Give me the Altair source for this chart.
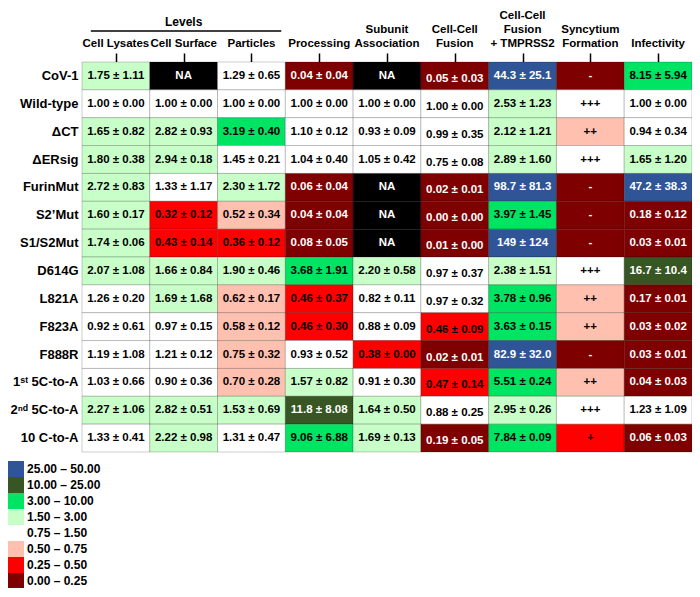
import altair as alt
import pandas as pd

rows = ["CoV-1", "Wild-type", "ΔCT", "ΔERsig", "FurinMut", "S2’Mut", "S1/S2Mut",
        "D614G", "L821A", "F823A", "F888R", "1ˢᵗ 5C-to-A", "2ⁿᵈ 5C-to-A", "10 C-to-A"]

columns = ["Cell Lysates", "Cell Surface", "Particles", "Processing", "Subunit Association",
           "Cell-Cell Fusion", "Cell-Cell Fusion + TMPRSS2", "Syncytium Formation", "Infectivity"]
column_lines = [["Cell Lysates"], ["Cell Surface"], ["Particles"], ["Processing"],
                ["Subunit", "Association"], ["Cell-Cell", "Fusion"],
                ["Cell-Cell", "Fusion", "+ TMPRSS2"], ["Syncytium", "Formation"], ["Infectivity"]]

# means / sds (None = NA), bins
lysates_mean = [1.75, 1.00, 1.65, 1.80, 2.72, 1.60, 1.74, 2.07, 1.26, 0.92, 1.19, 1.03, 2.27, 1.33]
lysates_sd = [1.11, 0.00, 0.82, 0.38, 0.83, 0.17, 0.06, 1.08, 0.20, 0.61, 1.08, 0.66, 1.06, 0.41]
lysates_bin = "LWLLLLLLWWWWLW"

surface_mean = [None, 1.00, 2.82, 2.94, 1.33, 0.32, 0.43, 1.66, 1.69, 0.97, 1.21, 0.90, 2.82, 2.22]
surface_sd = [None, 0.00, 0.93, 0.18, 1.17, 0.12, 0.14, 0.84, 1.68, 0.15, 0.12, 0.36, 0.51, 0.98]
surface_bin = "NWLLWRRLLWWWLL"

particles_mean = [1.29, 1.00, 3.19, 1.45, 2.30, 0.52, 0.36, 1.90, 0.62, 0.58, 0.75, 0.70, 1.53, 1.31]
particles_sd = [0.65, 0.00, 0.40, 0.21, 1.72, 0.34, 0.12, 0.46, 0.17, 0.12, 0.32, 0.28, 0.69, 0.47]
particles_bin = "WWGWLSRLSSSSLW"

processing_mean = [0.04, 1.00, 1.10, 1.04, 0.06, 0.04, 0.08, 3.68, 0.46, 0.46, 0.93, 1.57, 11.8, 9.06]
processing_sd = [0.04, 0.00, 0.12, 0.40, 0.04, 0.04, 0.05, 1.91, 0.37, 0.30, 0.52, 0.82, 8.08, 6.88]
processing_bin = "DWWWDDDGRRWLOG"

subunit_mean = [None, 1.00, 0.93, 1.05, None, None, None, 2.20, 0.82, 0.88, 0.38, 0.91, 1.64, 1.69]
subunit_sd = [None, 0.00, 0.09, 0.42, None, None, None, 0.58, 0.11, 0.09, 0.00, 0.30, 0.50, 0.13]
subunit_bin = "NWWWNNNLWWRWLL"

fusion_mean = [0.05, 1.00, 0.99, 0.75, 0.02, 0.00, 0.01, 0.97, 0.97, 0.46, 0.02, 0.47, 0.88, 0.19]
fusion_sd = [0.03, 0.00, 0.35, 0.08, 0.01, 0.00, 0.00, 0.37, 0.32, 0.09, 0.01, 0.14, 0.25, 0.05]
fusion_bin = "DWWWDDDWWRDRWD"

tmprss2_mean = [44.3, 2.53, 2.12, 2.89, 98.7, 3.97, 149, 2.38, 3.78, 3.63, 82.9, 5.51, 2.95, 7.84]
tmprss2_sd = [25.1, 1.23, 1.21, 1.60, 81.3, 1.45, 124, 1.51, 0.96, 0.15, 32.0, 0.24, 0.26, 0.09]
tmprss2_bin = "BLLLBGBLGGBGLG"

syncytium_text = ["-", "+++", "++", "+++", "-", "-", "-", "+++", "++", "++", "-", "++", "+++", "+"]
syncytium_bin = "DWSWDDDWSSDSWR"

infectivity_mean = [8.15, 1.00, 0.94, 1.65, 47.2, 0.18, 0.03, 16.7, 0.17, 0.03, 0.03, 0.04, 1.23, 0.06]
infectivity_sd = [5.94, 0.00, 0.34, 1.20, 38.3, 0.12, 0.01, 10.4, 0.01, 0.02, 0.01, 0.03, 1.09, 0.03]
infectivity_bin = "GWWLBDDODDDDWD"

bin_codes = ["B", "O", "G", "L", "W", "S", "R", "D"]
bin_labels = ["25.00 – 50.00", "10.00 – 25.00", "3.00 – 10.00", "1.50 – 3.00",
              "0.75 – 1.50", "0.50 – 0.75", "0.25 – 0.50", "0.00 – 0.25"]
bin_colors = ["#2F5597", "#375623", "#00E464", "#C8FFC8", "#FFFFFF", "#FFC0B0", "#FF0000", "#7F0000"]
dark_bins = {"B", "O", "D", "N"}


def fmt(v):
    if v >= 100:
        return f"{v:.0f}"
    if v >= 10:
        return f"{v:.1f}"
    return f"{v:.2f}"


numeric_cols = {
    0: (lysates_mean, lysates_sd, lysates_bin),
    1: (surface_mean, surface_sd, surface_bin),
    2: (particles_mean, particles_sd, particles_bin),
    3: (processing_mean, processing_sd, processing_bin),
    4: (subunit_mean, subunit_sd, subunit_bin),
    5: (fusion_mean, fusion_sd, fusion_bin),
    6: (tmprss2_mean, tmprss2_sd, tmprss2_bin),
    8: (infectivity_mean, infectivity_sd, infectivity_bin),
}

code_to_label = dict(zip(bin_codes, bin_labels))
code_to_label["N"] = "NA"

records = []
for ci, col in enumerate(columns):
    for ri, row in enumerate(rows):
        if ci == 7:
            txt = syncytium_text[ri]
            code = syncytium_bin[ri]
        else:
            m, s, b = numeric_cols[ci]
            code = b[ri]
            txt = "NA" if m[ri] is None else f"{fmt(m[ri])} ± {fmt(s[ri])}"
        records.append({
            "row": row, "col": col, "x0": ci, "x1": ci + 1, "xc": ci + 0.5,
            "label": txt, "bin": code_to_label[code],
            "tc": "#FFFFFF" if code in dark_bins else "#000000",
            "shift": ci == 5,
        })
df = pd.DataFrame(records)

# header lines, k = line number counted from the bottom line
head_records = []
for ci, lines in enumerate(column_lines):
    for j, line in enumerate(lines):
        head_records.append({"xc": ci + 0.5, "line": line, "k": len(lines) - 1 - j})
head_df = pd.DataFrame(head_records)

x_enc = alt.X("x0:Q", title=None,
              scale=alt.Scale(domain=[0, len(columns)], nice=False, zero=False),
              axis=alt.Axis(orient="top", values=[i + 0.5 for i in range(len(columns))],
                            labels=False, domain=False, grid=False,
                            ticks=True, tickSize=9, tickWidth=1.5, tickColor="#000000"))
y_enc = alt.Y("row:N", sort=rows, title=None,
              scale=alt.Scale(paddingInner=0, paddingOuter=0),
              axis=alt.Axis(ticks=False, domain=False, labelPadding=4, labelFontSize=13,
                            labelFontWeight="bold", labelColor="#000000", labelLimit=200))

base = alt.Chart(df)
rect = base.mark_rect(stroke="#000000", strokeOpacity=0.2, strokeWidth=1).encode(
    x=x_enc, x2="x1:Q", y=y_enc,
    color=alt.Color("bin:N",
                    scale=alt.Scale(domain=bin_labels + ["NA"], range=bin_colors + ["#000000"]),
                    legend=alt.Legend(values=bin_labels, title=None, orient="none",
                                      legendX=-74, legendY=399, symbolType="square",
                                      symbolSize=256, symbolStrokeWidth=0, rowPadding=0,
                                      labelFontSize=12, labelFontWeight="bold",
                                      labelColor="#000000", labelOffset=3, padding=0)),
)

text_main = base.transform_filter("!datum.shift").mark_text(
    fontSize=11.5, fontWeight="bold").encode(
    x="xc:Q", y=alt.Y("row:N", sort=rows), text="label:N",
    color=alt.Color("tc:N", scale=None))
text_shift = base.transform_filter("datum.shift").mark_text(
    fontSize=11.5, fontWeight="bold", dy=3).encode(
    x="xc:Q", y=alt.Y("row:N", sort=rows), text="label:N",
    color=alt.Color("tc:N", scale=None))

head_layers = []
for k in range(3):
    head_layers.append(
        alt.Chart(head_df).transform_filter(f"datum.k == {k}").mark_text(
            fontSize=11.5, fontWeight="bold", color="#000000", baseline="middle").encode(
            x="xc:Q", y=alt.value(-18 - 14 * k), text="line:N"))

levels_df = pd.DataFrame({"start": [0.13], "end": [2.94], "mid": [1.5], "name": ["Levels"]})
levels_rule = alt.Chart(levels_df).mark_rule(color="#000000", strokeWidth=1.5).encode(
    x="start:Q", x2="end:Q", y=alt.value(-31))
levels_text = alt.Chart(levels_df).mark_text(fontSize=12, fontWeight="bold", color="#000000").encode(
    x="mid:Q", y=alt.value(-40), text="name:N")

chart = alt.layer(rect, text_main, text_shift, *head_layers, levels_rule, levels_text).resolve_scale(
    color="independent"
).properties(
    width=610, height=390,
    autosize=alt.AutoSizeParams(type="none"),
    padding={"left": 74, "top": 54, "right": 0, "bottom": 136},
).configure(font="Liberation Sans").configure_view(stroke=None)

chart.save("out.html", embed_options={"renderer": "svg", "actions": False})
